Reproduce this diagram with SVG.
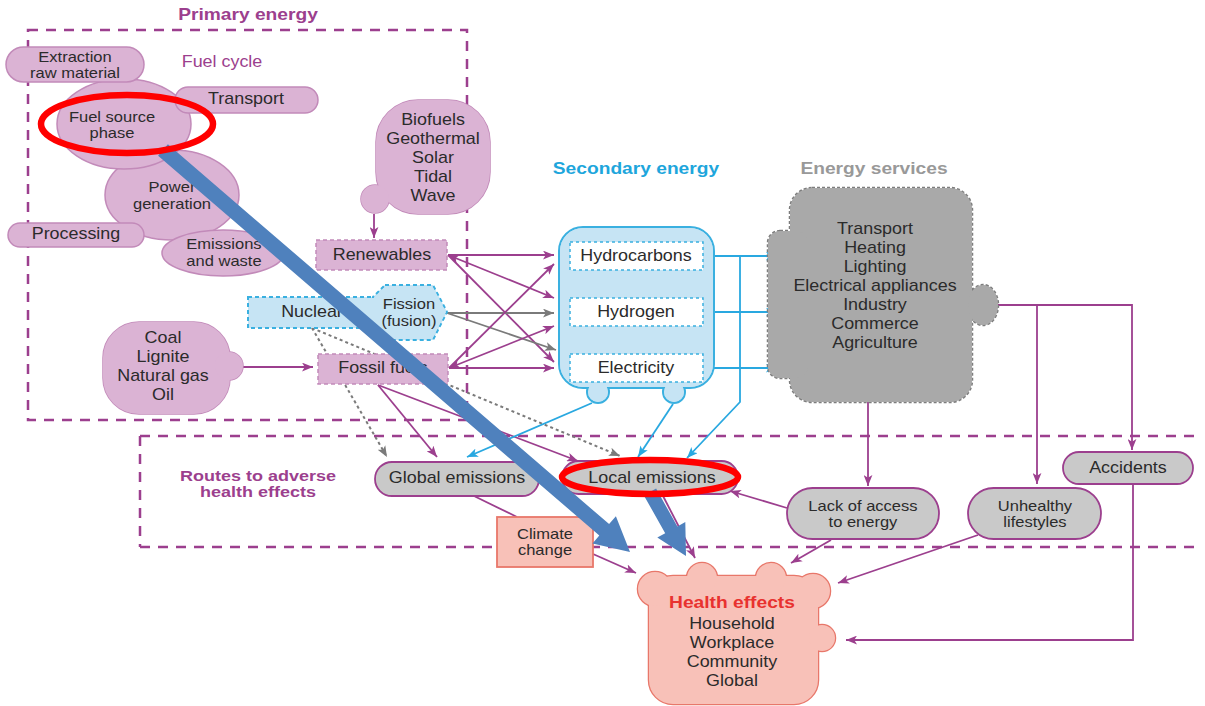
<svg xmlns="http://www.w3.org/2000/svg" width="1205" height="706" viewBox="0 0 1205 706">
<style>
.t{font-family:"Liberation Sans",Arial,sans-serif;font-size:16px;fill:#2b2b2b;text-anchor:middle;dominant-baseline:central;transform-box:fill-box;transform-origin:center;transform:scaleX(1.12)}
.s{font-size:14px;transform:scaleX(1.18)}
.h{font-family:"Liberation Sans",Arial,sans-serif;font-size:16px;font-weight:bold;text-anchor:middle;dominant-baseline:central;transform-box:fill-box;transform-origin:center;transform:scaleX(1.2)}
.pk{fill:#dbb3d4;stroke:#c28ab9;stroke-width:1.5}
.pkd{fill:#dbb3d4;stroke:#c28ab9;stroke-width:1.5;stroke-dasharray:4 3}
.pf{fill:#dbb3d4}
.bl{fill:#c6e4f4;stroke:#3ab0e0;stroke-width:2}
.bld{fill:#c6e4f4;stroke:#3ab0e0;stroke-width:2;stroke-dasharray:4 3}
.bf{fill:#c6e4f4}
.wb{fill:#fff;stroke:#3ab0e0;stroke-width:1.5;stroke-dasharray:3 3}
.gr{fill:#a9a9a9;stroke:#7d7d7d;stroke-width:2.5;stroke-dasharray:3 2}
.gf{fill:#a9a9a9}
.gp{fill:#c9c9c9;stroke:#9c3f8e;stroke-width:1.8}
.hp{fill:#f8c1b8;stroke:#e8776a;stroke-width:2.5}
.hf{fill:#f8c1b8}
.reg{fill:none;stroke:#9c3f8e;stroke-width:2.5;stroke-dasharray:10 8}
.cp{fill:none;stroke:#9c3f8e;stroke-width:1.8}
.cb{fill:none;stroke:#29a8e0;stroke-width:1.8}
.cg{fill:none;stroke:#7a7a7a;stroke-width:1.8}
.cgd{fill:none;stroke:#7a7a7a;stroke-width:2;stroke-dasharray:3 3}
.red{fill:none;stroke:#f00;stroke-width:6.5}
.big{fill:#4f81bd}
</style>
<defs>
<marker id="mp" viewBox="0 0 10 8" refX="10" refY="4" markerWidth="11" markerHeight="9" markerUnits="userSpaceOnUse" orient="auto-start-reverse"><path d="M0,0 L10,4 L0,8 L2.5,4z" fill="#9c3f8e"/></marker>
<marker id="mb" viewBox="0 0 10 8" refX="10" refY="4" markerWidth="11" markerHeight="9" markerUnits="userSpaceOnUse" orient="auto"><path d="M0,0 L10,4 L0,8 L2.5,4z" fill="#29a8e0"/></marker>
<marker id="mg" viewBox="0 0 10 8" refX="10" refY="4" markerWidth="11" markerHeight="9" markerUnits="userSpaceOnUse" orient="auto"><path d="M0,0 L10,4 L0,8 L2.5,4z" fill="#7a7a7a"/></marker>
</defs>
<rect width="1205" height="706" fill="#fff"/>

<g id="regions">
<rect class="reg" x="28" y="30" width="439" height="390"/>
<path class="reg" d="M140,436 H1200 M140,547 H1200 M140,436 V547"/>
<text class="h" x="248" y="15" fill="#9c3f8e">Primary energy</text>
<text class="t" x="222" y="62" style="fill:#9c3f8e">Fuel cycle</text>
<text class="h" x="636" y="169" fill="#1ea6dc">Secondary energy</text>
<text class="h" x="874" y="169" fill="#999">Energy services</text>
<text class="h" x="258" y="476" fill="#9c3f8e" style="font-size:15px">Routes to adverse</text>
<text class="h" x="258" y="492" fill="#9c3f8e" style="font-size:15px">health effects</text>
</g>

<g id="connectors">
<path class="cp" d="M374,214 V238" marker-end="url(#mp)"/>
<path class="cp" d="M243,367 H313" marker-end="url(#mp)"/>
<path class="cp" d="M448,255 L554,255" marker-end="url(#mp)"/>
<path class="cp" d="M448,255 L554,298" marker-start="url(#mp)" marker-end="url(#mp)"/>
<path class="cp" d="M448,255 L554,362" marker-end="url(#mp)"/>
<path class="cg" d="M447,313 L554,313" marker-end="url(#mg)"/>
<path class="cg" d="M447,313 L556,350" marker-end="url(#mg)"/>
<path class="cp" d="M449,368 L554,368" marker-end="url(#mp)"/>
<path class="cp" d="M449,368 L554,326" marker-start="url(#mp)" marker-end="url(#mp)"/>
<path class="cp" d="M449,368 L554,264" marker-end="url(#mp)"/>
<path class="cp" d="M378,385 L437,457" marker-end="url(#mp)"/>
<path class="cp" d="M378,385 L578,461" marker-end="url(#mp)"/>
<path class="cgd" d="M312,328 L387,457" marker-end="url(#mg)"/>
<path class="cgd" d="M312,328 L620,456" marker-end="url(#mg)"/>
<path class="cb" d="M592,403 L467,457" marker-end="url(#mb)"/>
<path class="cb" d="M673,404 L638,457" marker-end="url(#mb)"/>
<path class="cb" d="M740,256 V402 L687,458" marker-end="url(#mb)"/>
<path class="cb" d="M703,256 H777" marker-end="url(#mb)"/>
<path class="cb" d="M703,312 H777" marker-end="url(#mb)"/>
<path class="cb" d="M703,368 H777" marker-end="url(#mb)"/>
<path class="cb" d="M611,273 V296" marker-end="url(#mb)"/>
<path class="cb" d="M660,296 V273" marker-end="url(#mb)"/>
<path class="cb" d="M611,328 V352" marker-end="url(#mb)"/>
<path class="cb" d="M660,352 V328" marker-end="url(#mb)"/>
<path class="cp" d="M868,402 V486" marker-end="url(#mp)"/>
<path class="cp" d="M997,305 H1132 V450" marker-end="url(#mp)"/>
<path class="cp" d="M1037,305 V484" marker-end="url(#mp)"/>
<path class="cp" d="M1133,484 V640 H846" marker-end="url(#mp)"/>
<path class="cp" d="M474,496 L517,517"/>
<path class="cp" d="M593,554 L636,573" marker-end="url(#mp)"/>
<path class="cp" d="M662,494 L695,558" marker-end="url(#mp)"/>
<path class="cp" d="M787,508 L730,491" marker-end="url(#mp)"/>
<path class="cp" d="M831,540 L791,563" marker-end="url(#mp)"/>
<path class="cp" d="M978,535 L838,583" marker-end="url(#mp)"/>
</g>

<g id="power-generation">
<ellipse class="pk" cx="172" cy="195" rx="67" ry="45"/>
<text class="t s" x="172" y="187">Power</text>
<text class="t s" x="172" y="203.5">generation</text>
</g>
<g id="fuel-source">
<ellipse class="pk" cx="124" cy="124" rx="67" ry="45"/>
<text class="t s" x="112" y="116.5">Fuel source</text>
<text class="t s" x="112" y="133">phase</text>
</g>
<g id="extraction">
<rect class="pk" x="6" y="47" width="138" height="35" rx="17.5"/>
<text class="t s" x="75" y="56.5">Extraction</text>
<text class="t s" x="75" y="73">raw material</text>
</g>
<g id="transport">
<rect class="pk" x="175" y="87" width="143" height="26" rx="13"/>
<text class="t" x="246" y="99">Transport</text>
</g>
<g id="processing">
<rect class="pk" x="8" y="223" width="136" height="24" rx="12"/>
<text class="t" x="76" y="234">Processing</text>
</g>
<g id="emissions-waste">
<ellipse class="pk" cx="223" cy="253" rx="61" ry="23"/>
<text class="t s" x="224" y="244">Emissions</text>
<text class="t s" x="224" y="260.5">and waste</text>
</g>

<g id="biofuels">
<rect class="pk" x="376" y="100" width="114" height="114" rx="42"/>
<circle class="pk" cx="375" cy="199" r="14"/>
<rect class="pf" x="376" y="100" width="114" height="114" rx="42"/>
<circle class="pf" cx="375" cy="199" r="14"/>
<text class="t" x="433" y="120">Biofuels</text>
<text class="t" x="433" y="139">Geothermal</text>
<text class="t" x="433" y="158">Solar</text>
<text class="t" x="433" y="177">Tidal</text>
<text class="t" x="433" y="196">Wave</text>
</g>

<g id="renewables">
<rect class="pkd" x="316" y="240" width="131" height="30"/>
<text class="t" x="382" y="255">Renewables</text>
</g>

<g id="nuclear">
<rect class="bld" x="248" y="297" width="135" height="31"/>
<polygon class="bld" points="385,285 433,285 447,312 433,340 385,340 373,328 373,297"/>
<rect class="bf" x="249" y="298" width="133" height="29"/>
<polygon class="bf" points="386,286 432,286 446,312 432,339 386,339 374,327 374,298"/>
<text class="t" x="312" y="312">Nuclear</text>
<text class="t s" x="409" y="304">Fission</text>
<text class="t s" x="409" y="320.5">(fusion)</text>
</g>

<g id="coal">
<rect class="pk" x="103" y="322" width="127" height="92" rx="36"/>
<circle class="pk" cx="229" cy="366" r="14"/>
<rect class="pf" x="103" y="322" width="127" height="92" rx="36"/>
<circle class="pf" cx="229" cy="366" r="14"/>
<text class="t" x="163" y="338">Coal</text>
<text class="t" x="163" y="357">Lignite</text>
<text class="t" x="163" y="376">Natural gas</text>
<text class="t" x="163" y="395">Oil</text>
</g>

<g id="fossil-fuels">
<rect class="pkd" x="318" y="354" width="130" height="30"/>
<text class="t" x="383" y="368">Fossil fuels</text>
</g>

<g id="secondary">
<rect class="bl" x="559" y="227" width="155" height="161" rx="24"/>
<circle class="bl" cx="598" cy="392" r="11"/>
<circle class="bl" cx="674" cy="392" r="11"/>
<rect class="bf" x="560" y="228" width="153" height="159" rx="23"/>
<circle class="bf" cx="598" cy="392" r="10"/>
<circle class="bf" cx="674" cy="392" r="10"/>
<rect class="wb" x="570" y="242" width="133" height="28"/>
<rect class="wb" x="570" y="298" width="133" height="28"/>
<rect class="wb" x="570" y="354" width="133" height="28"/>
<text class="t" x="636" y="256">Hydrocarbons</text>
<text class="t" x="636" y="312">Hydrogen</text>
<text class="t" x="636" y="368">Electricity</text>
</g>

<g id="energy-services">
<rect class="gr" x="790" y="188" width="182" height="214" rx="22"/>
<rect class="gr" x="768" y="231" width="40" height="147" rx="12"/>
<ellipse class="gr" cx="983" cy="305" rx="15" ry="20"/>
<rect class="gf" x="790" y="188" width="182" height="214" rx="22"/>
<rect class="gf" x="768" y="231" width="40" height="147" rx="12"/>
<ellipse class="gf" cx="983" cy="305" rx="15" ry="20"/>
<text class="t" x="875" y="229">Transport</text>
<text class="t" x="875" y="248">Heating</text>
<text class="t" x="875" y="267">Lighting</text>
<text class="t" x="875" y="286">Electrical appliances</text>
<text class="t" x="875" y="305">Industry</text>
<text class="t" x="875" y="324">Commerce</text>
<text class="t" x="875" y="343">Agriculture</text>
</g>

<g id="global-emissions">
<rect class="gp" x="375" y="462" width="164" height="34" rx="17"/>
<text class="t" x="457" y="478">Global emissions</text>
</g>
<g id="local-emissions">
<rect class="gp" x="562" y="461" width="176" height="33" rx="16.5"/>
<text class="t" x="652" y="478">Local emissions</text>
</g>
<g id="climate-change">
<rect class="hp" x="497" y="517" width="96" height="50" style="stroke-width:1.8"/>
<text class="t s" x="545" y="533.5">Climate</text>
<text class="t s" x="545" y="550">change</text>
</g>
<g id="lack-of-access">
<rect class="gp" x="787" y="488" width="152" height="51" rx="25.5"/>
<text class="t s" x="863" y="505.5">Lack of access</text>
<text class="t s" x="863" y="522">to energy</text>
</g>
<g id="unhealthy">
<rect class="gp" x="968" y="488" width="133" height="51" rx="25.5"/>
<text class="t s" x="1035" y="505.5">Unhealthy</text>
<text class="t s" x="1035" y="522">lifestyles</text>
</g>
<g id="accidents">
<rect class="gp" x="1063" y="452" width="130" height="32" rx="16"/>
<text class="t" x="1128" y="468">Accidents</text>
</g>

<g id="health-effects">
<rect class="hp" x="649" y="576" width="169" height="128" rx="24"/>
<circle class="hp" cx="655" cy="589" r="17"/>
<circle class="hp" cx="702" cy="578" r="15"/>
<circle class="hp" cx="771" cy="578" r="15"/>
<circle class="hp" cx="813" cy="591" r="17"/>
<circle class="hp" cx="822" cy="638" r="13"/>
<rect class="hf" x="649" y="576" width="169" height="128" rx="24"/>
<circle class="hf" cx="655" cy="589" r="17"/>
<circle class="hf" cx="702" cy="578" r="15"/>
<circle class="hf" cx="771" cy="578" r="15"/>
<circle class="hf" cx="813" cy="591" r="17"/>
<circle class="hf" cx="822" cy="638" r="13"/>
<text class="h" x="732" y="603" fill="#e8322f">Health effects</text>
<text class="t" x="732" y="624">Household</text>
<text class="t" x="732" y="643">Workplace</text>
<text class="t" x="732" y="662">Community</text>
<text class="t" x="732" y="681">Global</text>
</g>

<g id="highlights">
<polygon class="big" points="167.9,144.3 609.1,524.1 615.9,516.2 630,552 592.5,543.4 599.3,535.5 158.1,155.7"/>
<polygon class="big" points="656.1,488.6 677.4,526.4 685.3,522.0 686,556 657.3,537.6 665.2,533.2 643.9,495.4"/>
<ellipse class="red" cx="127" cy="124" rx="86" ry="29"/>
<ellipse class="red" cx="650" cy="477" rx="88" ry="17"/>
</g>
</svg>
